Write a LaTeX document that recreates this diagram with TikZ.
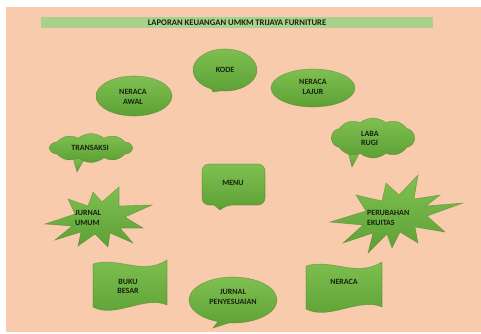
\documentclass[tikz,border=0pt]{standalone}
\usepackage{fontspec}
\setmainfont{Carlito}[BoldFont={* Bold}]
\usetikzlibrary{shapes.geometric,shapes.symbols}
\definecolor{peach}{HTML}{F8CBAD}
\definecolor{barg}{HTML}{A9D18E}
\definecolor{gtop}{RGB}{128,192,82}
\definecolor{gbot}{RGB}{92,160,52}
\definecolor{gedge}{RGB}{70,120,40}
\definecolor{txt}{HTML}{17230F}
\tikzset{
  gshape/.style={top color=gtop, bottom color=gbot, draw=gedge, draw opacity=0.45, line width=0.6pt},
  lbl/.style={text=txt, font=\bfseries\fontsize{8}{9.8}\selectfont, align=center, inner sep=0pt},
  lbll/.style={lbl, align=left, anchor=west},
  cloudbox/.style={gshape, cloud, cloud puffs=10, cloud puff arc=80, cloud ignores aspect, inner sep=0pt},
}
\begin{document}
\begin{tikzpicture}[x=1pt,y=1pt]
\useasboundingbox (0,0) rectangle (481,333);
\fill[white] (0,0) rectangle (481,333);
\fill[peach] (6,1) rectangle (481,326);
% title bar
\fill[barg] (41,305) rectangle (433,316);
\node[lbl, font=\bfseries\fontsize{8.6}{10}\selectfont] (title) at (237,310.5) {LAPORAN KEUANGAN UMKM TRIJAYA FURNITURE};
% KODE callout
\path[gshape] (225,263) ++(263:32pt and 21pt) arc[start angle=263, end angle=605, x radius=32pt, y radius=21pt] -- (213,241) -- cycle;
\node[lbl] (kode) at (225,263) {KODE};
% NERACA AWAL
\node[gshape, ellipse, minimum width=76pt, minimum height=40pt] (awalshape) at (134,237) {};
\node[lbl] (awal) at (133,236.5) {NERACA\\AWAL};
% NERACA LAJUR
\node[gshape, ellipse, minimum width=84pt, minimum height=38pt] (lajurshape) at (313,245) {};
\node[lbl] (lajur) at (313,246) {NERACA\\LAJUR};
% TRANSAKSI cloud
\path[gshape] (73,175) -- (77,161) -- (85,175) -- cycle;
\node[cloudbox, minimum width=82pt, minimum height=29pt] (transshape) at (91,185) {};
\node[lbl] (trans) at (90,185) {TRANSAKSI};
% LABA RUGI cloud
\path[gshape] (348,181) -- (352,166) -- (360,181) -- cycle;
\node[cloudbox, minimum width=83pt, minimum height=40pt] (labashape) at (373,195) {};
\node[lbll] (laba) at (361,194.5) {LABA\\RUGI};
% MENU
\path[gshape] (214,128) [rounded corners=7pt] -- (202,128) -- (202,169) -- (265,169) -- (265,128) -- (226,128) [sharp corners] -- (220,123) -- cycle;
\node[lbl] (menu) at (233,150) {MENU};
% JURNAL UMUM explosion
\path[gshape] (45,109) -- (75,119) -- (68,134) -- (88,127) -- (93,141) -- (102,131) -- (119,146) -- (119,127) -- (152,128) -- (125,116) -- (143,105) -- (120,105) -- (133,90) -- (110,100) -- (108,86) -- (95,99) -- (78,87) -- (81,101) -- (55,93) -- (72,107) -- cycle;
\node[lbll] (umum) at (75,115) {JURNAL\\UMUM};
% PERUBAHAN EKUITAS explosion
\path[gshape] (330,111) -- (366,122) -- (356,138) -- (382,132) -- (386,150) -- (399,138) -- (418,158) -- (414,134) -- (440,138) -- (426,127) -- (463,130) -- (427,117) -- (445,101) -- (415,106) -- (418,90) -- (400,101) -- (392,85) -- (387,99) -- (368,80) -- (373,100) -- (343,90) -- (363,108) -- cycle;
\node[lbll] (ekuitas) at (367,115) {PERUBAHAN\\EKUITAS};
% BUKU BESAR wave
\path[gshape] (93,26) -- (93,69) .. controls (118,77) and (142,57) .. (167,73) -- (167,28) .. controls (145,38) and (115,14) .. (93,26) -- cycle;
\node[lbl] (buku) at (128,46.5) {BUKU\\BESAR};
% NERACA wave
\path[gshape] (306,24) -- (306,67) .. controls (332,75) and (356,55) .. (382,71) -- (382,26) .. controls (359,36) and (329,12) .. (306,24) -- cycle;
\node[lbl] (neraca) at (344,51) {NERACA};
% JURNAL PENYESUAIAN callout
\path[gshape] (233,33) ++(265:44pt and 23pt) arc[start angle=265, end angle=610, x radius=44pt, y radius=23pt] -- (213,5) -- cycle;
\node[lbl] (penyesuaian) at (233,36) {JURNAL\\PENYESUAIAN};
\end{tikzpicture}
\end{document}
